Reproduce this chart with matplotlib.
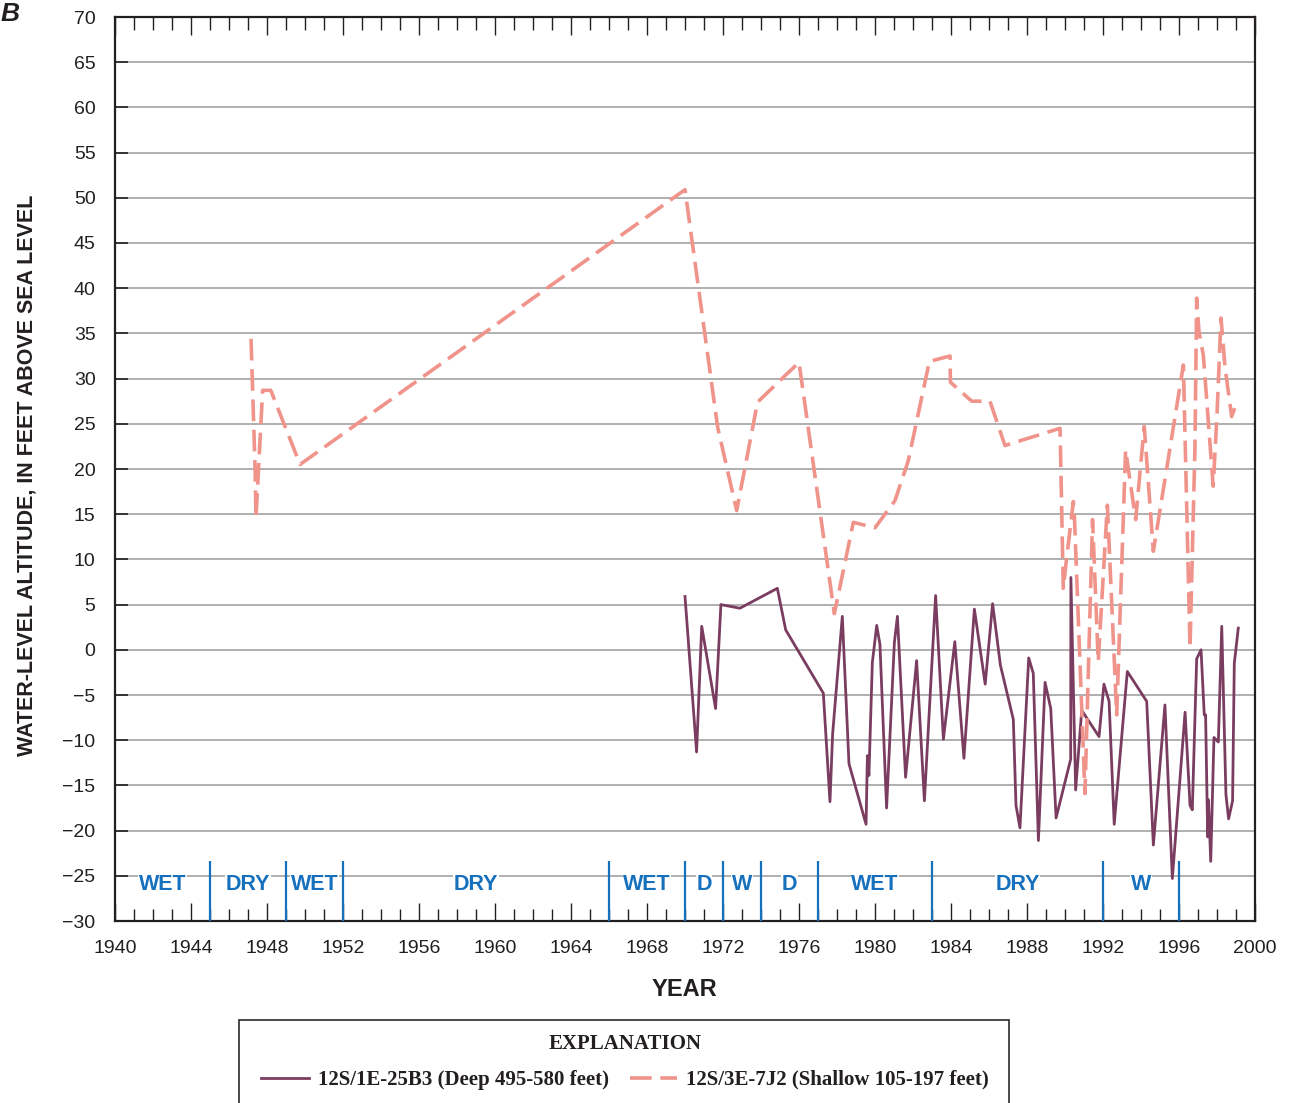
import matplotlib
matplotlib.use('Agg')
import matplotlib.pyplot as plt
from matplotlib.ticker import MultipleLocator
from matplotlib.lines import Line2D
from matplotlib.patches import Rectangle

# ---------------- data ----------------
deep_years = [1970.0, 1970.61, 1970.88, 1971.61, 1971.89, 1972.89, 1974.86, 1975.3,
              1977.28, 1977.63, 1977.77, 1978.28, 1978.63, 1979.53, 1979.6, 1979.68,
              1979.86, 1980.09, 1980.26, 1980.61, 1981.02, 1981.18, 1981.61, 1982.19,
              1982.6, 1983.19, 1983.6, 1984.2, 1984.68, 1985.23, 1985.8, 1986.19,
              1986.6, 1987.28, 1987.42, 1987.63, 1988.09, 1988.33, 1988.6, 1988.95,
              1989.25, 1989.53, 1990.3, 1990.31, 1990.56, 1990.88, 1991.79, 1992.05,
              1992.32, 1992.59, 1993.28, 1994.3, 1994.65, 1995.26, 1995.65, 1996.32,
              1996.58, 1996.7, 1996.93, 1997.16, 1997.33, 1997.4, 1997.51, 1997.55,
              1997.67, 1997.84, 1998.07, 1998.25, 1998.47, 1998.61, 1998.82, 1998.91,
              1999.12]
deep_levels = [5.9, -11.3, 2.6, -6.5, 5.0, 4.6, 6.8, 2.2,
               -4.8, -16.8, -9.3, 3.7, -12.6, -19.3, -11.7, -13.9,
               -1.4, 2.7, 0.6, -17.5, 0.8, 3.7, -14.1, -1.2,
               -16.7, 6.0, -9.9, 0.9, -12.0, 4.5, -3.8, 5.1,
               -1.7, -7.7, -17.2, -19.7, -0.9, -2.6, -21.1, -3.6,
               -6.5, -18.6, -12.1, 8.0, -15.5, -6.7, -9.6, -3.8,
               -5.7, -19.3, -2.4, -5.7, -21.6, -6.1, -25.3, -6.9,
               -17.2, -17.7, -1.0, 0.0, -7.2, -7.2, -20.7, -16.6,
               -23.4, -9.7, -10.2, 2.6, -16.0, -18.7, -16.7, -1.5,
               2.4]

shallow_years = [1947.16, 1947.38, 1947.42, 1947.77, 1948.2, 1949.74, 1970.0, 1971.72,
                 1972.72, 1973.82, 1976.0, 1977.86, 1978.86, 1980.0, 1981.05, 1981.75,
                 1982.86, 1983.95, 1983.97, 1985.09, 1986.05, 1986.84, 1989.74, 1989.91,
                 1990.05, 1990.44, 1990.5, 1991.05, 1991.45, 1991.75, 1992.23, 1992.72,
                 1993.19, 1993.72, 1994.17, 1994.65, 1996.23, 1996.58, 1996.84, 1996.93,
                 1997.05, 1997.28, 1997.8, 1998.0, 1998.21, 1998.42, 1998.77, 1999.03]
shallow_levels = [34.4, 19.5, 14.6, 28.7, 28.7, 20.5, 50.9, 24.6,
                  15.4, 27.4, 31.8, 4.0, 14.1, 13.5, 16.5, 20.9,
                  31.9, 32.5, 29.6, 27.5, 27.5, 22.6, 24.5, 6.8,
                  9.5, 16.4, 14.5, -15.9, 14.4, -1.3, 16.0, -7.2,
                  22.1, 14.4, 24.7, 10.9, 31.5, 0.2, 22.5, 38.9,
                  35.2, 32.6, 18.1, 26.0, 36.7, 31.3, 25.8, 27.3]

period_bounds = [1940, 1945, 1949, 1952, 1966, 1970, 1972, 1974, 1977, 1983, 1992, 1996]
period_labels = ['WET', 'DRY', 'WET', 'DRY', 'WET', 'D', 'W', 'D', 'WET', 'DRY', 'W']

y_ticks = list(range(-30, 75, 5))
deep_label = '12S/1E-25B3 (Deep 495-580 feet)'
shallow_label = '12S/3E-7J2 (Shallow 105-197 feet)'

# ---------------- style ----------------
plt.rcParams['font.family'] = ['Liberation Sans', 'DejaVu Sans']
DEEP_C = '#7a3d60'
SHAL_C = '#f0938b'
BLUE = '#1570bd'
SPINE_C = '#231f20'

W, H = 1291, 1103
fig = plt.figure(figsize=(W / 100, H / 100), dpi=100)
ax = fig.add_axes([115 / W, 1 - 921 / H, 1140 / W, 904 / H])
ax.set_xlim(1940, 2000)
ax.set_ylim(-30, 70)

ax.xaxis.set_major_locator(MultipleLocator(4))
ax.xaxis.set_minor_locator(MultipleLocator(1))
ax.set_yticks(y_ticks)
ax.set_yticklabels([('\u2212' + str(-v)) if v < 0 else str(v) for v in y_ticks])

ax.yaxis.grid(True, color='#9a9a9a', lw=1.1)
ax.set_axisbelow(True)

for s in ax.spines.values():
    s.set_color(SPINE_C)
    s.set_linewidth(1.6)

ax.tick_params(axis='x', which='major', direction='in', length=13, width=1.0,
               top=True, labelsize=14, pad=14, color=SPINE_C, labelcolor='#231f20')
ax.tick_params(axis='x', which='minor', direction='in', length=9, width=1.0,
               top=True, color=SPINE_C)
ax.tick_params(axis='y', which='major', direction='in', length=9, width=1.2,
               right=False, labelsize=14, pad=14, color=SPINE_C, labelcolor='#231f20')

# wet/dry periods
ax.vlines(period_bounds[1:], -30, -23.4, colors=BLUE, lw=1.6, zorder=3)
for a, b, lab in zip(period_bounds[:-1], period_bounds[1:], period_labels):
    ax.text((a + b) / 2, -26.6, lab, ha='center', va='baseline', color=BLUE,
            fontsize=15.5, fontweight='bold', zorder=3,
            bbox=dict(facecolor='white', edgecolor='none', pad=0.5))

# series
ax.plot(deep_years, deep_levels, color=DEEP_C, lw=2.0, zorder=4)
ax.plot(shallow_years, shallow_levels, color=SHAL_C, lw=2.6, dashes=(6, 2.4), zorder=5)

# labels
fig.text(27 / W, 1 - 475 / H, 'WATER-LEVEL ALTITUDE, IN FEET ABOVE SEA LEVEL',
         rotation=90, ha='center', va='center', fontsize=15.5, fontweight='bold',
         color='#231f20')
fig.text(684 / W, 1 - 989 / H, 'YEAR', ha='center', va='center', fontsize=17,
         fontweight='bold', color='#231f20')
fig.text(1 / W, 1 - 2 / H, 'B', ha='left', va='top', fontsize=19,
         fontweight='bold', fontstyle='italic', color='#231f20')

# legend
handles = [Line2D([], [], color=DEEP_C, lw=2.0),
           Line2D([], [], color=SHAL_C, lw=2.6, dashes=(6, 2.4))]
serif = dict(family='Liberation Serif', weight='bold', size=15)
leg = fig.legend(handles, [deep_label, shallow_label], loc='upper center',
                 bbox_to_anchor=(625 / W, 1 - 1030 / H), ncol=2, frameon=False,
                 title='EXPLANATION', prop=serif, title_fontproperties=serif,
                 handlelength=2.3, handletextpad=0.4, columnspacing=1.0,
                 borderaxespad=0, borderpad=0.2, labelspacing=0.75)
for t in leg.get_texts():
    t.set_color('#231f20')
leg.get_title().set_color('#231f20')
fig.add_artist(Rectangle((239 / W, 1 - 1120 / H), 770 / W, 100 / H,
                         transform=fig.transFigure, fill=False,
                         edgecolor='#3a3a3a', lw=1.3))

fig.savefig('out.png', dpi=100)
